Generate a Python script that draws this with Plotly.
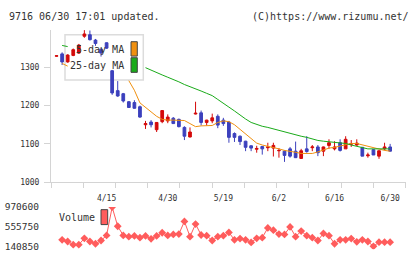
import plotly.graph_objects as go

# ---- data ----
opens  = [1329,1335,1314,1331,1337,1381,1385,1371,1347,1364,
          1291,1239,1231,1210,1208,1197,1150,1157,1137,1158,
          1160,1167,1164,1143,1118,1178,1181,1156,1160,1172,
          1162,1157,1127,1120,1107,1095,1086,1093,1090,1089,
          1082,1081,1087,1081,1062,1087,1090,1092,1081,1096,
          1087,1103,1087,1099,1097,1091,1069,1085,1068,1087,1092]
highs  = [1331,1339,1334,1349,1361,1397,1396,1374,1350,1365,
          1293,1264,1233,1212,1214,1200,1160,1162,1157,1188,
          1177,1170,1166,1146,1143,1210,1187,1163,1179,1177,
          1168,1160,1130,1122,1108,1096,1095,1094,1103,1103,
          1089,1083,1092,1106,1087,1120,1097,1097,1093,1112,
          1107,1112,1120,1110,1112,1092,1077,1087,1083,1103,1100]
lows   = [1328,1306,1312,1329,1335,1377,1370,1356,1328,1348,
          1228,1223,1208,1194,1192,1168,1139,1143,1131,1154,
          1154,1152,1143,1110,1117,1177,1148,1148,1154,1141,
          1147,1103,1105,1097,1081,1081,1077,1072,1081,1067,
          1064,1053,1064,1063,1061,1077,1081,1068,1068,1087,
          1083,1080,1087,1092,1095,1068,1064,1071,1061,1083,1080]
closes = [1330,1314,1332,1346,1358,1387,1372,1362,1337,1350,
          1233,1225,1212,1195,1193,1170,1153,1150,1156,1187,
          1170,1153,1145,1120,1131,1180,1156,1162,1168,1149,
          1153,1117,1117,1106,1091,1089,1088,1087,1092,1096,
          1083,1070,1068,1064,1082,1080,1092,1077,1092,1103,
          1092,1083,1112,1101,1102,1068,1071,1071,1082,1092,1081]
# moving averages as drawn (None where hidden behind the legend box)
ma5  = [None,1310,1303,None,None,None,None,None,None,None,
        None,None,None,1265,1240,1207,1195,1183,1172,1164,
        1162,1162,1162,1161,1153,1145,1147,1147,1148,1156,
        1160,1158,1150,1138,1126,1112,1102,1097,1094,1090,
        1087,1083,1081,1078,1075,1075,1075,1079,1084,1089,
        1091,1094,1098,1101,1101,1097,1093,1091,1087,1083,1081]
ma25 = [None,1357,1354,None,None,None,None,None,None,None,
        None,None,None,None,None,None,1299,1292,1286,1280,
        1274,1269,1262,1255,1250,1245,1238,1232,1226,1216,
        1205,1196,1186,1175,1165,1156,1150,1146,1143,1139,
        1134,1130,1127,1123,1120,1117,1113,1109,1107,1106,
        1104,1102,1101,1097,1093,1089,1087,1087,1087,1087,1087]
volumes = [None,278000,243000,176000,176000,311000,243000,196000,264000,372000,
           970600,565000,372000,346000,360000,325000,360000,299000,360000,428000,
           372000,393000,401000,668000,346000,612000,381000,366000,264000,346000,
           366000,434000,278000,305000,278000,223000,311000,325000,530000,483000,
           401000,393000,551000,346000,463000,366000,325000,264000,414000,366000,
           196000,278000,278000,305000,237000,278000,243000,140850,229000,229000,229000]
tick_pos  = [9, 20, 30, 40, 50, 60]
tick_text = ["4/15", "4/30", "5/19", "6/2", "6/16", "6/30"]
price_ticks = [1000, 1100, 1200, 1300]
vol_ticks = [140850, 555750, 970600]
vol_text = ["140850", "555750", "970600"]

x = list(range(len(closes)))

W, H = 420, 259
def px(v): return v / W
def py(v): return 1 - v / H

RED = '#d40a0a'
BLUE = '#3c40bd'
ORANGE = '#f0900f'
GREEN = '#1aab1a'
VOLC = '#ff5c5c'
MONO = 'DejaVu Sans Mono'

fig = go.Figure()
fig.add_trace(go.Scatter(x=x, y=ma5, mode='lines', line=dict(color=ORANGE, width=1),
                         hoverinfo='skip'))
fig.add_trace(go.Scatter(x=x, y=ma25, mode='lines', line=dict(color=GREEN, width=1),
                         hoverinfo='skip'))
fig.add_trace(go.Candlestick(
    x=x, open=opens, high=highs, low=lows, close=closes,
    increasing=dict(line=dict(color=RED, width=1), fillcolor=RED),
    decreasing=dict(line=dict(color=BLUE, width=1), fillcolor=BLUE),
    whiskerwidth=0, xaxis='x', yaxis='y'))
fig.add_trace(go.Scatter(x=x, y=volumes, xaxis='x2', yaxis='y2', mode='lines+markers',
                         line=dict(color=VOLC, width=1),
                         marker=dict(symbol='diamond', size=6, color=VOLC)))

xdom = [px(51), px(405.7)]
xr = [-1.0, 62.8]

fig.update_layout(
    width=W, height=H, margin=dict(l=0, r=0, t=0, b=0),
    paper_bgcolor='white', plot_bgcolor='white', showlegend=False,
    font=dict(family=MONO, color='#333'),
    xaxis=dict(domain=xdom, range=xr, anchor='y', showgrid=False, zeroline=False,
               showline=True, linecolor='#d4d4d4', linewidth=1,
               tickmode='array', tickvals=tick_pos, ticktext=tick_text,
               ticks='outside', ticklen=8, tickcolor='rgba(0,0,0,0)',
               tickfont=dict(size=8, color='#333', family=MONO),
               rangeslider=dict(visible=False),
               minor=dict(ticks='outside', ticklen=5, tickcolor='#d4d4d4',
                          tick0=xr[0], dtick=(xr[1] - xr[0]) / 11, showgrid=False)),
    yaxis=dict(domain=[py(184), py(25)], range=[1000, 1397.5], anchor='x',
               showgrid=False, zeroline=False, showline=True, linecolor='#d4d4d4',
               tickmode='array', tickvals=price_ticks, ticks='outside', ticklen=6,
               tickcolor='#d4d4d4', tickfont=dict(size=8, color='#333', family=MONO),
               ticklabelstandoff=3),
    xaxis2=dict(domain=xdom, range=xr, anchor='y2', visible=False),
    yaxis2=dict(domain=[py(254), py(210)], range=[80136, 970600], anchor='x2',
                showgrid=False, zeroline=False, showline=False, ticks='',
                tickmode='array', tickvals=vol_ticks, ticktext=vol_text,
                tickfont=dict(size=9.5, color='#333', family=MONO),
                ticklabelstandoff=11),
)

shapes = [
    dict(type='rect', xref='paper', yref='paper', x0=px(65), x1=px(143.3),
         y0=py(77.3), y1=py(30), line=dict(color='#dcdcdc', width=1.5),
         fillcolor='white', layer='below'),
    dict(type='rect', xref='paper', yref='paper', x0=px(131), x1=px(137.3),
         y0=py(52.3), y1=py(37.3), line=dict(color='#444', width=1), fillcolor=ORANGE),
    dict(type='rect', xref='paper', yref='paper', x0=px(131), x1=px(137.3),
         y0=py(69.3), y1=py(54), line=dict(color='#444', width=1), fillcolor=GREEN),
    dict(type='rect', xref='paper', yref='paper', x0=px(101), x1=px(107.7),
         y0=py(228.3), y1=py(212.7), line=dict(color='#444', width=1), fillcolor=VOLC),
]
fig.update_layout(shapes=shapes)

def ann(text, xx, yy, anchor, size):
    return dict(text=text, xref='paper', yref='paper', x=px(xx), y=py(yy),
                xanchor=anchor, yanchor='middle', showarrow=False,
                font=dict(family=MONO, size=size, color='#333'))

fig.update_layout(annotations=[
    ann("9716 06/30 17:01 updated.", 7, 11, 'left', 10),
    ann("(C)https://www.rizumu.net/", 411, 11, 'right', 10),
    ann("5-day MA", 126, 45.5, 'right', 10),
    ann("25-day MA", 126, 62, 'right', 10),
    ann("Volume", 57, 221, 'left', 10),
])

fig.write_html("out.html")
